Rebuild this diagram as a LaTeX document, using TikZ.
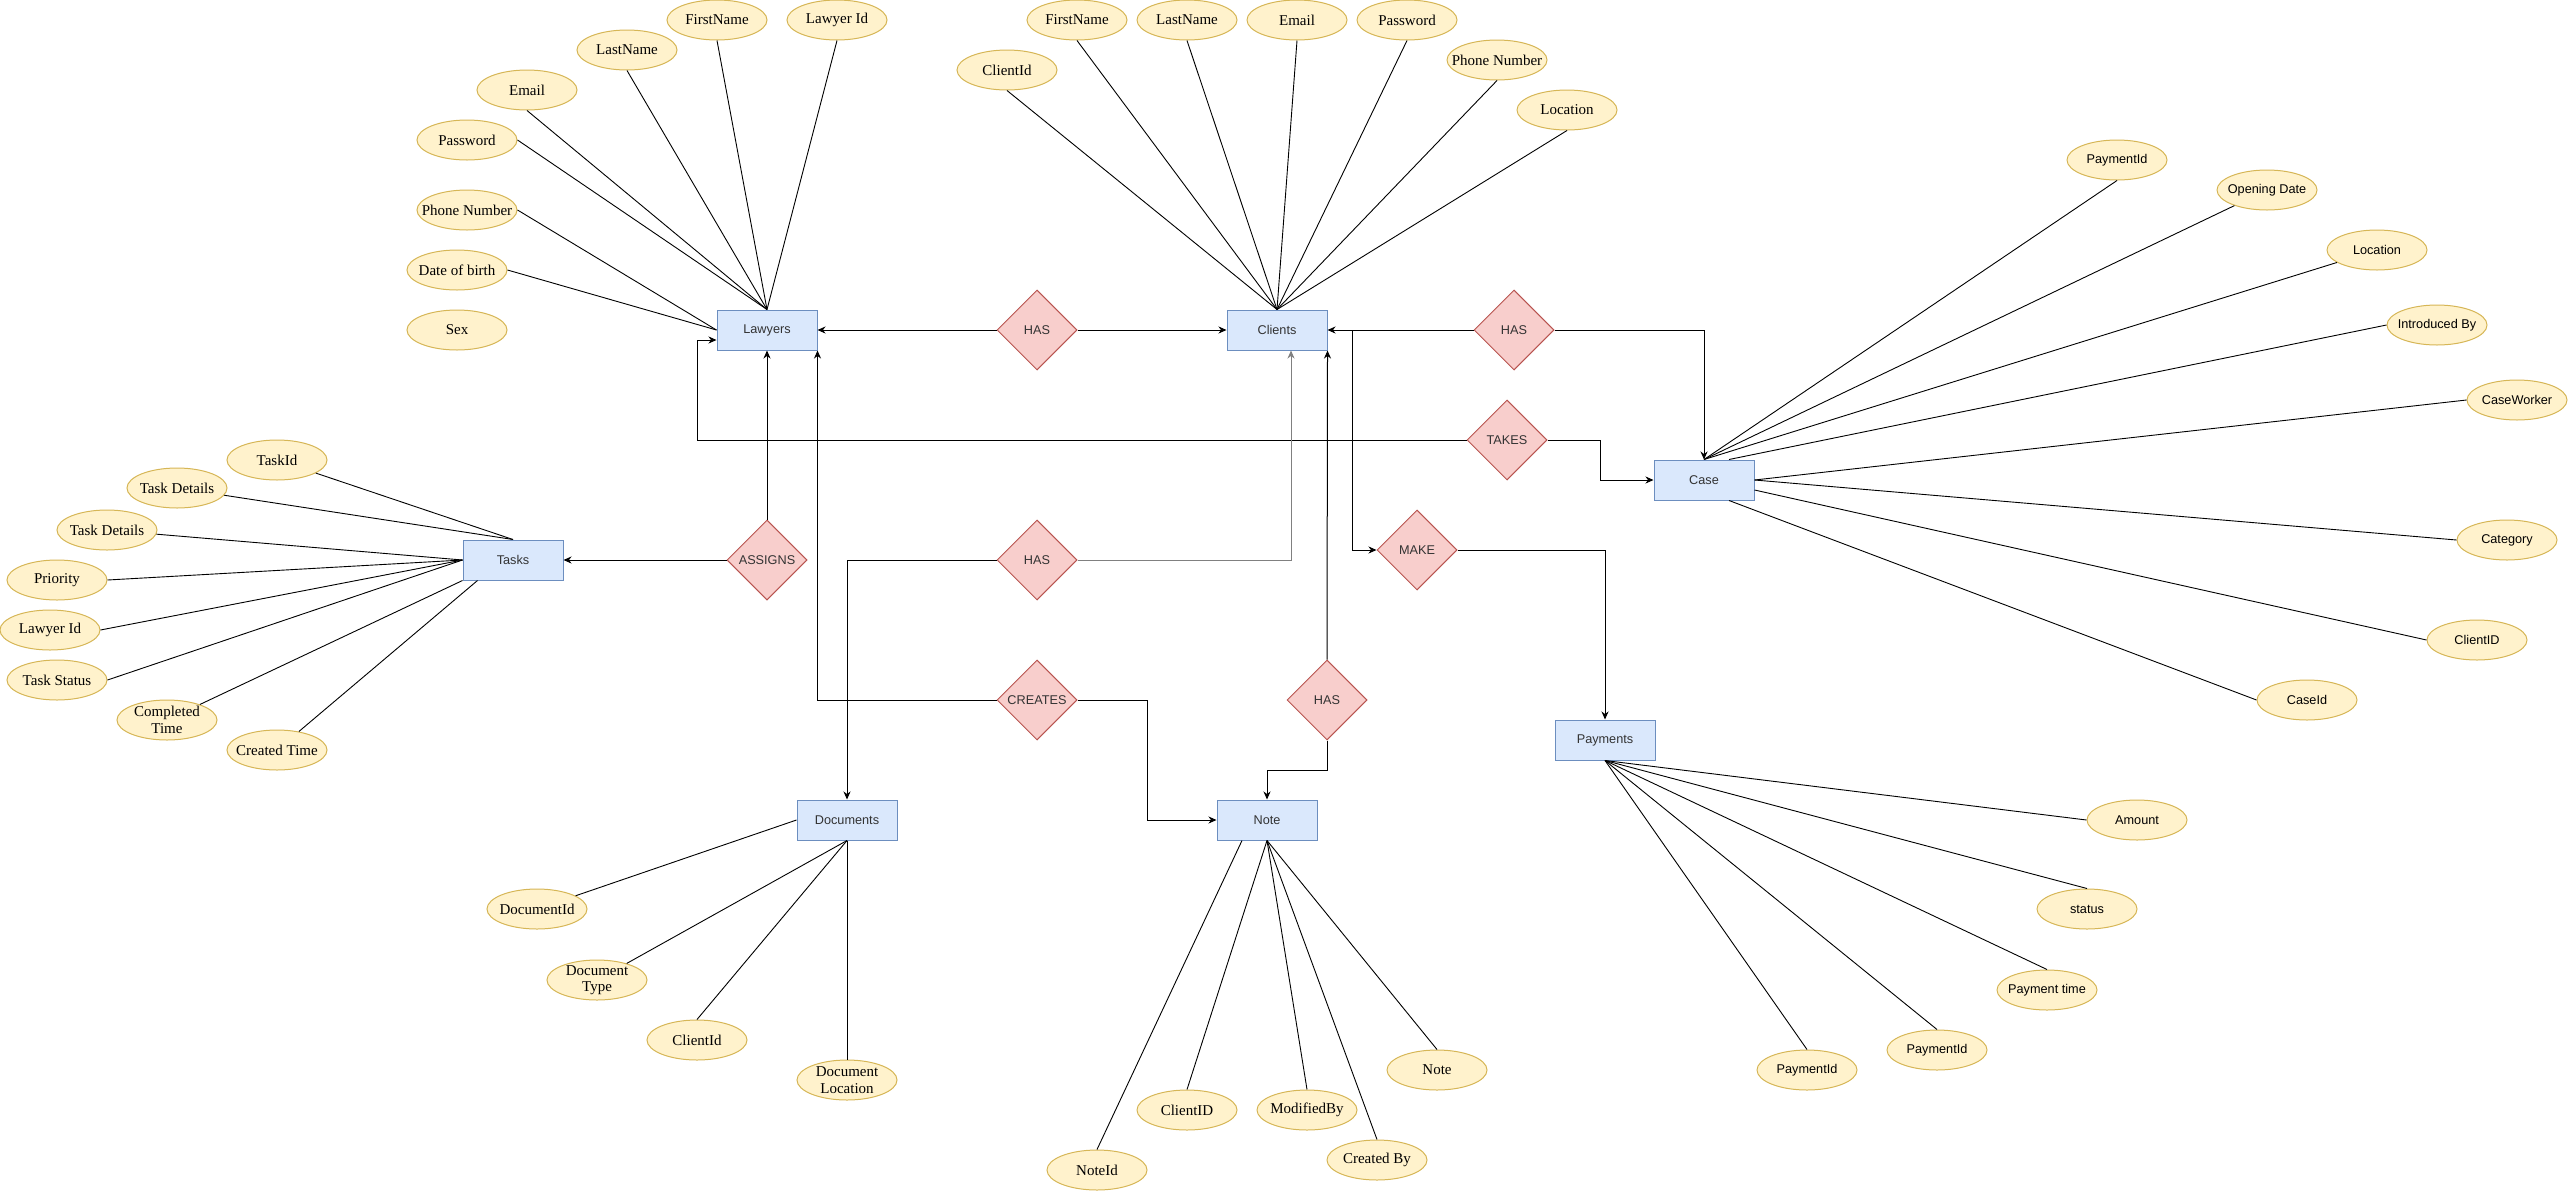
\documentclass[tikz,border=0pt]{standalone}
\usepackage{fontspec}
\setmainfont{Liberation Serif}
\setsansfont{Liberation Sans}
\usetikzlibrary{arrows.meta,shapes.geometric}
\definecolor{entfill}{HTML}{DAE8FC}
\definecolor{entline}{HTML}{6C8EBF}
\definecolor{relfill}{HTML}{F8CECC}
\definecolor{relline}{HTML}{B85450}
\definecolor{attfill}{HTML}{FFF2CC}
\definecolor{attline}{HTML}{D6B656}

\begin{document}
\begin{tikzpicture}[x=1pt,y=-1pt,
  entity/.style={draw=entline,fill=entfill,line width=1pt,minimum width=100pt,minimum height=40pt,inner sep=0pt,text=black!80,font=\fontsize{12.7}{15}\sffamily\selectfont},
  relation/.style={diamond,aspect=1,draw=relline,fill=relfill,line width=1pt,minimum width=80pt,minimum height=80pt,inner sep=0pt,text=black!80,font=\fontsize{12.7}{15}\sffamily\selectfont},
  attr/.style={ellipse,draw=attline,fill=attfill,line width=1pt,minimum width=100pt,minimum height=40pt,inner xsep=-12pt,inner ysep=-3pt,align=center,font=\fontsize{15}{16.5}\rmfamily\selectfont},
  sattr/.style={attr,font=\fontsize{12.7}{15}\sffamily\selectfont},
  link/.style={line width=0.9pt},
  arr/.style={line width=1pt,-{Stealth[length=8pt,width=7pt,inset=2.5pt]}}]
            \useasboundingbox (0,0) rectangle (2569,1192);

            % entities
            \node[entity] (lw) at (767,330) {Lawyers};
            \node[entity] (cl) at (1277,330) {Clients};
            \node[entity] (tk) at (513,560) {Tasks};
            \node[entity] (cs) at (1704,480) {Case};
            \node[entity] (py) at (1605,740) {Payments};
            \node[entity] (dc) at (847,820) {Documents};
            \node[entity] (nt) at (1267,820) {Note};

            % relations
            \node[relation] (has1) at (1037,330) {HAS};
            \node[relation] (has2) at (1514,330) {HAS};
            \node[relation] (takes) at (1507,440) {TAKES};
            \node[relation] (make) at (1417,550) {MAKE};
            \node[relation] (assigns) at (767,560) {ASSIGNS};
            \node[relation] (has3) at (1037,560) {HAS};
            \node[relation] (creates) at (1037,700) {CREATES};
            \node[relation] (has4) at (1327,700) {HAS};

            % Lawyers attributes
            \node[attr] (lfn) at (717,20) {FirstName};
            \node[attr] (lid) at (837,20) {Lawyer Id};
            \node[attr] (lln) at (627,50) {LastName};
            \node[attr] (lem) at (527,90) {Email};
            \node[attr] (lpw) at (467,140) {Password};
            \node[attr] (lph) at (467,210) {Phone Number};
            \node[attr] (ldb) at (457,270) {Date of birth};
            \node[attr] (lsx) at (457,330) {Sex};
            \draw[link] (lfn.south) -- (lw.north);
            \draw[link] (lid.south) -- (lw.north);
            \draw[link] (lln.south) -- (lw.north);
            \draw[link] (lem.south) -- (lw.north);
            \draw[link] (lpw.east) -- (lw.north);
            \draw[link] (lph.east) -- (lw.west);
            \draw[link] (ldb.east) -- (lw.west);

            % Clients attributes
            \node[attr] (cid) at (1007,70) {ClientId};
            \node[attr] (cfn) at (1077,20) {FirstName};
            \node[attr] (cln) at (1187,20) {LastName};
            \node[attr] (cem) at (1297,20) {Email};
            \node[attr] (cpw) at (1407,20) {Password};
            \node[attr] (cph) at (1497,60) {Phone Number};
            \node[attr] (clo) at (1567,110) {Location};
            \foreach \a in {cid,cfn,cln,cem,cpw,cph,clo}
              \draw[link] (\a.south) -- (cl.north);

            % Tasks attributes
            \node[attr] (tid) at (277,460) {TaskId};
            \node[attr] (td1) at (177,488) {Task Details};
            \node[attr] (td2) at (107,530) {Task Details};
            \node[attr] (tpr) at (57,580) {Priority};
            \node[attr] (tli) at (50,630) {Lawyer Id};
            \node[attr] (tst) at (57,680) {Task Status};
            \node[attr] (tct) at (167,720) {Completed\\Time};
            \node[attr] (tcr) at (277,750) {Created Time};
            \draw[link] (tid) -- (tk.north);
            \draw[link] (td1) -- (tk.north);
            \draw[link] (td2) -- (tk.west);
            \draw[link] (tpr.east) -- (tk.west);
            \draw[link] (tli.east) -- (tk.west);
            \draw[link] (tst.east) -- (tk.west);
            \draw[link] (tct) -- (tk.south west);
            \draw[link] (tcr) -- ([xshift=15pt]tk.south west);

            % Documents attributes
            \node[attr] (did) at (537,909) {DocumentId};
            \node[attr] (dty) at (597,980) {Document\\Type};
            \node[attr] (dci) at (697,1040) {ClientId};
            \node[attr] (dlo) at (847,1080) {Document\\Location};
            \draw[link] (did) -- (dc.west);
            \draw[link] (dty) -- (dc.south);
            \draw[link] (dci.north) -- (dc.south);
            \draw[link] (dlo.north) -- (dc.south);

            % Note attributes
            \node[attr] (nid) at (1097,1170) {NoteId};
            \node[attr] (nci) at (1187,1110) {ClientID};
            \node[attr] (nmb) at (1307,1110) {ModifiedBy};
            \node[attr] (ncb) at (1377,1160) {Created By};
            \node[attr] (nno) at (1437,1070) {Note};
            \draw[link] (nid.north) -- ([xshift=-25pt]nt.south);
            \foreach \a in {nci,nmb,ncb,nno}
              \draw[link] (\a.north) -- (nt.south);

            % Case attributes
            \node[sattr] (cpi) at (2117,160) {PaymentId};
            \node[sattr] (cod) at (2267,190) {Opening Date};
            \node[sattr] (clc) at (2377,250) {Location};
            \node[sattr] (cib) at (2437,325) {Introduced By};
            \node[sattr] (ccw) at (2517,400) {CaseWorker};
            \node[sattr] (cca) at (2507,540) {Category};
            \node[sattr] (ccl) at (2477,640) {ClientID};
            \node[sattr] (cci) at (2307,700) {CaseId};
            \draw[link] (cpi.south) -- (cs.north);
            \draw[link] (cod) -- (cs.north);
            \draw[link] (clc) -- (cs.north);
            \draw[link] (cib.west) -- ([xshift=25pt]cs.north);
            \draw[link] (ccw.west) -- (cs.east);
            \draw[link] (cca.west) -- (cs.east);
            \draw[link] (ccl.west) -- ([yshift=-10pt]cs.east);
            \draw[link] (cci.west) -- ([xshift=25pt]cs.south);

            % Payments attributes
            \node[sattr] (pam) at (2137,820) {Amount};
            \node[sattr] (pst) at (2087,909) {status};
            \node[sattr] (ptm) at (2047,990) {Payment time};
            \node[sattr] (pi1) at (1937,1050) {PaymentId};
            \node[sattr] (pi2) at (1807,1070) {PaymentId};
            \draw[link] (pam.west) -- (py.south);
            \foreach \a in {pst,ptm,pi1,pi2}
              \draw[link] (\a.north) -- (py.south);

            % relations to entities
            \draw[arr] (has1.west) -- (lw.east);
            \draw[arr] (has1.east) -- (cl.west);
            \draw[arr] (has2.west) -- (cl.east);
            \draw[arr] (has2.east) -| (cs.north);
            \coordinate (tk1) at (697,440);
            \draw[arr] (takes.west) -- (tk1) |- ([yshift=-10pt]lw.west);
            \draw[arr] (takes.east) -- ++(53,0) |- (cs.west);
            \draw[arr] ([xshift=25pt]cl.east) |- (make.west);
            \draw[arr] (make.east) -| (py.north);
            \draw[arr] (assigns.north) -- (lw.south);
            \draw[arr] (assigns.west) -- (tk.east);
            \draw[arr,gray] (has3.east) -| ([xshift=14pt]cl.south);
            \draw[arr] (has3.west) -| (dc.north);
            \draw[arr] (creates.west) -| (lw.south east);
            \draw[arr] (creates.east) -- ++(70,0) |- (nt.west);
            \draw[arr] (has4.north) -- (cl.south east);
            \draw[arr] (has4.south) -- ++(0,30) -| (nt.north);
        \end{tikzpicture}
\end{document}
